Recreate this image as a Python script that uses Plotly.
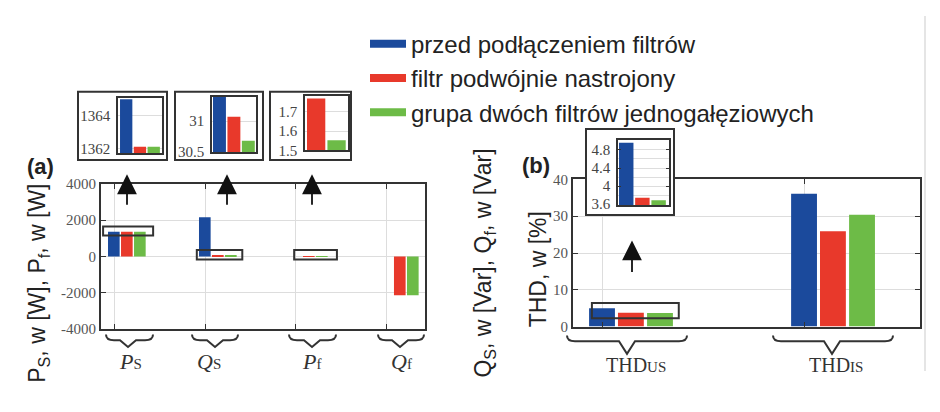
import plotly.graph_objects as go

# the page body keeps its default 8px margin, so the figure is drawn 8px in
OFF = 8
W, H = 940 - 2 * OFF, 412 - 2 * OFF

# panel (a): power at the supply and in the filters
cats_a = ["Ps", "Qs", "Pf", "Qf"]
before_a = [1365.0, 2160.0, 0.0, 0.0]
double_a = [1362.1, 31.07, 1.77, -2140.0]
single_a = [1362.1, 30.68, 1.553, -2140.0]
ticks_a = [-4000, -2000, 0, 2000, 4000]
ticktext_a = ["-4000", "-2000", "0", "2000", "4000"]

# panel (b): total harmonic distortion
cats_b = ["THDus", "THDis"]
before_b = [4.96, 36.1]
double_b = [3.74, 25.9]
single_b = [3.685, 30.4]

names = [
    "przed podłączeniem filtrów",
    "filtr podwójnie nastrojony",
    "grupa dwóch filtrów jednogałęziowych",
]
colors = ["#1b4a9c", "#e8392b", "#6dbb47"]

SERIF = "Liberation Serif"
SANS = "Liberation Sans"
LINE = "#333333"
GRID = "#dddddd"


def px(x):
    return (x - OFF) / W


def py(y):
    return 1 - (y - OFF) / H


def dom_x(a, b):
    return [px(a), px(b)]


def dom_y(top, bottom):
    return [py(bottom), py(top)]


fig = go.Figure()


def add_bars(x, series, xa, ya, offsets, width):
    for y, c, off in zip(series, colors, offsets):
        fig.add_trace(go.Bar(
            x=x, y=y, xaxis=xa, yaxis=ya,
            marker=dict(color=c, line_width=0),
            offset=off, width=width,
            showlegend=False, hoverinfo="skip",
        ))


off_a = [-0.066, 0.077, 0.22]
off_b = [-0.064, 0.079, 0.223]

# main plots first, then the framed inset for (b), then the insets
add_bars(cats_a, [before_a, double_a, single_a], "x", "y", off_a, 0.128)
add_bars(cats_b, [before_b, double_b, single_b], "x2", "y3", off_b, 0.128)
fig.add_trace(go.Scatter(x=[None], y=[None], xaxis="x3", yaxis="y4",
                         showlegend=False, hoverinfo="skip"))
add_bars(cats_b, [before_b, double_b, single_b], "x4", "y5", off_b, 0.128)
add_bars(cats_a, [before_a, double_a, single_a], "x5", "y6", off_a, 0.128)
add_bars(cats_a, [before_a, double_a, single_a], "x6", "y7", off_a, 0.128)
add_bars(cats_a, [before_a, double_a, single_a], "x7", "y8", off_a, 0.128)

# legend entries drawn as thick lines
for i, (n, c) in enumerate(zip(names, colors)):
    fig.add_trace(go.Scatter(
        x=[None], y=[None], mode="lines", name=n, legendgroup=str(i),
        line=dict(color=c, width=8),
    ))

tickfont = dict(family=SERIF, size=15, color="#555555")
insetfont = dict(family=SERIF, size=15, color="#444444")

main_x = dict(type="category", showticklabels=False, ticks="inside", ticklen=5,
              tickcolor=LINE, showline=True, linecolor=LINE, linewidth=2,
              mirror="ticks", showgrid=True, gridcolor=GRID, zeroline=False)
main_y = dict(ticks="inside", ticklen=5, tickcolor=LINE, showline=True,
              linecolor=LINE, linewidth=2, showgrid=True, gridcolor=GRID,
              zeroline=False, tickfont=tickfont)
inset_x = dict(type="category", showticklabels=False, ticks="", showline=True,
               linecolor=LINE, linewidth=1.5, mirror=True, showgrid=False,
               zeroline=False, fixedrange=True)
inset_y = dict(ticks="", showline=True, linecolor=LINE, linewidth=1.5,
               mirror=True, showgrid=True, gridcolor=GRID, zeroline=False,
               tickfont=insetfont, fixedrange=True, ticklabelstandoff=3)

fig.update_layout(
    width=W, height=H,
    margin=dict(l=0, r=0, t=0, b=0),
    paper_bgcolor="white", plot_bgcolor="white",
    barmode="overlay",
    showlegend=True,
    legend=dict(x=px(365), y=py(14), xanchor="left", yanchor="top", itemwidth=36,
                font=dict(family=SANS, size=24, color="#222222"),
                bgcolor="rgba(0,0,0,0)", traceorder="grouped", tracegroupgap=0),
    # (a) main
    xaxis=dict(main_x, domain=dom_x(101, 425), anchor="y",
               categoryarray=cats_a, categoryorder="array", range=[-0.143, 3.418]),
    yaxis=dict(main_y, domain=dom_y(183, 334), anchor="x", range=[-4000, 4000],
               tickvals=ticks_a, ticktext=ticktext_a, mirror=True),
    yaxis2=dict(overlaying="y", side="right", anchor="x", range=[-4000, 4000],
                tickvals=ticks_a, ticktext=ticktext_a, ticks="inside", ticklen=5,
                tickcolor=LINE, showgrid=False, zeroline=False, showline=False,
                tickfont=tickfont),
    # (b) main
    xaxis2=dict(main_x, domain=dom_x(573, 920), anchor="y3",
                categoryarray=cats_b, categoryorder="array", range=[-0.1436, 1.574]),
    yaxis3=dict(main_y, domain=dom_y(178.3, 331.7), anchor="x2", range=[0, 40],
                dtick=10, mirror="ticks"),
    # (b) inset frame
    xaxis3=dict(domain=dom_x(587, 673), anchor="y4", range=[0, 1], visible=True,
                showticklabels=False, ticks="", showgrid=False, zeroline=False,
                showline=True, linecolor=LINE, linewidth=2, mirror=True, fixedrange=True),
    yaxis4=dict(domain=dom_y(127, 214), anchor="x3", range=[0, 1],
                showticklabels=False, ticks="", showgrid=False, zeroline=False,
                showline=True, linecolor=LINE, linewidth=2, mirror=True, fixedrange=True),
    # (b) inset
    xaxis4=dict(inset_x, domain=dom_x(618, 669), anchor="y5",
                categoryarray=cats_b, categoryorder="array", range=[-0.073, 0.379]),
    yaxis5=dict(inset_y, domain=dom_y(137.7, 205), anchor="x4", range=[3.58, 5.01],
                tickvals=[3.6, 4, 4.4, 4.8], ticks="inside", ticklen=3,
                tickcolor=LINE, mirror="ticks",
                minor=dict(dtick=0.2, tick0=3.6, showgrid=True, gridcolor=GRID)),
    # (a) insets
    xaxis5=dict(inset_x, domain=dom_x(118, 162), anchor="y6",
                categoryarray=cats_a, categoryorder="array", range=[-0.087, 0.37]),
    yaxis6=dict(inset_y, domain=dom_y(93, 151), anchor="x5", range=[1361.7, 1365.1],
                tickvals=[1362, 1364]),
    xaxis6=dict(inset_x, domain=dom_x(212, 256), anchor="y7",
                categoryarray=cats_a, categoryorder="array", range=[0.924, 1.36]),
    yaxis7=dict(inset_y, domain=dom_y(92, 150), anchor="x6", range=[30.49, 31.4],
                tickvals=[30.5, 31]),
    xaxis7=dict(inset_x, domain=dom_x(305, 348), anchor="y8",
                categoryarray=cats_a, categoryorder="array", range=[2.063, 2.364]),
    yaxis8=dict(inset_y, domain=dom_y(91, 148), anchor="x7", range=[1.5, 1.785],
                tickvals=[1.5, 1.6, 1.7]),
)


def brace(x0, x1, xc, top, mid, tip):
    pts = [
        f"M {px(x0)},{py(top)}",
        f"Q {px(x0)},{py(mid)} {px(x0 + 8)},{py(mid)}",
        f"L {px(xc - 8)},{py(mid)}",
        f"L {px(xc)},{py(tip)}",
        f"L {px(xc + 8)},{py(mid)}",
        f"L {px(x1 - 8)},{py(mid)}",
        f"Q {px(x1)},{py(mid)} {px(x1)},{py(top)}",
    ]
    return dict(type="path", path=" ".join(pts), xref="paper", yref="paper",
                line=dict(color=LINE, width=2))


shapes = [
    brace(106, 153, 128, 340, 346, 353),
    brace(192, 238, 215, 340, 346, 353),
    brace(289, 336, 312, 340, 346, 353),
    brace(378, 424, 400, 340, 346, 353),
    brace(567, 687, 627, 341, 347, 360),
    brace(773, 893, 832, 341, 347, 360),
]
# frames around the insets of (a)
for x0, x1 in [(78, 167), (175, 263), (270, 351)]:
    shapes.append(dict(type="rect", xref="paper", yref="paper",
                       x0=px(x0), x1=px(x1), y0=py(158), y1=py(87),
                       line=dict(color=LINE, width=2)))
# zoom windows in the main plots
shapes += [
    dict(type="rect", xref="x", yref="y", x0=-0.12, x1=0.43, y0=1150, y1=1650,
         line=dict(color=LINE, width=2), layer="above"),
    dict(type="rect", xref="x", yref="y", x0=0.91, x1=1.41, y0=-170, y1=350,
         line=dict(color=LINE, width=2), layer="above"),
    dict(type="rect", xref="x", yref="y", x0=1.98, x1=2.45, y0=-170, y1=350,
         line=dict(color=LINE, width=2), layer="above"),
    dict(type="rect", xref="x2", yref="y3", x0=-0.05, x1=0.38, y0=2.3, y1=6.4,
         line=dict(color=LINE, width=2), layer="above"),
    dict(type="line", xref="paper", yref="paper", x0=px(925), x1=px(925),
         y0=py(378), y1=1, line=dict(color="#dcdcdc", width=1.5)),
]
fig.update_layout(shapes=shapes)

P = dict(xref="paper", yref="paper", showarrow=False,
         xanchor="center", yanchor="middle")
ann = []
ann.append(dict(P, text="<b>(a)</b>", x=px(40), y=py(165),
                font=dict(family=SANS, size=22, color="#222222")))
ann.append(dict(P, text="<b>(b)</b>", x=px(536), y=py(164),
                font=dict(family=SANS, size=22, color="#222222")))
titlefont = dict(family=SANS, size=23, color="#222222")
ann.append(dict(P, text="P<sub>S</sub>, w [W], P<sub>f</sub>, w [W]", textangle=-90,
                x=px(39), y=py(287), font=titlefont))
ann.append(dict(P, text="Q<sub>S</sub>, w [Var], Q<sub>f</sub>, w [Var]", textangle=-90,
                x=px(485), y=py(266), font=titlefont))
ann.append(dict(P, text="THD, w [%]", textangle=-90,
                x=px(538), y=py(272), font=titlefont))

labfont = dict(family=SERIF, size=22, color="#333333")
small = "<span style='font-size:15px'>{}</span>"
for lab, sub, xc in [("P", "S", 130), ("Q", "S", 209), ("P", "f", 311), ("Q", "f", 401)]:
    ann.append(dict(P, text=f"<i>{lab}</i>" + small.format(sub), x=px(xc), y=py(368),
                    font=labfont))
for sub, xc in [("US", 636), ("IS", 836)]:
    ann.append(dict(P, text="THD" + small.format(sub), x=px(xc), y=py(372),
                    font=dict(family=SERIF, size=20, color="#333333")))

# arrows pointing to the insets
for xa, tip, tail in [(127, 173, 205), (227, 173, 205), (312, 173, 205), (632, 242, 275)]:
    ann.append(dict(x=px(xa), y=py(tip), xref="paper", yref="paper", text="",
                    showarrow=True, ax=0, ay=tail - tip, arrowhead=2,
                    arrowsize=2.2, arrowwidth=1.8, arrowcolor="#111111"))
fig.update_layout(annotations=ann)

fig.write_html("out.html")
